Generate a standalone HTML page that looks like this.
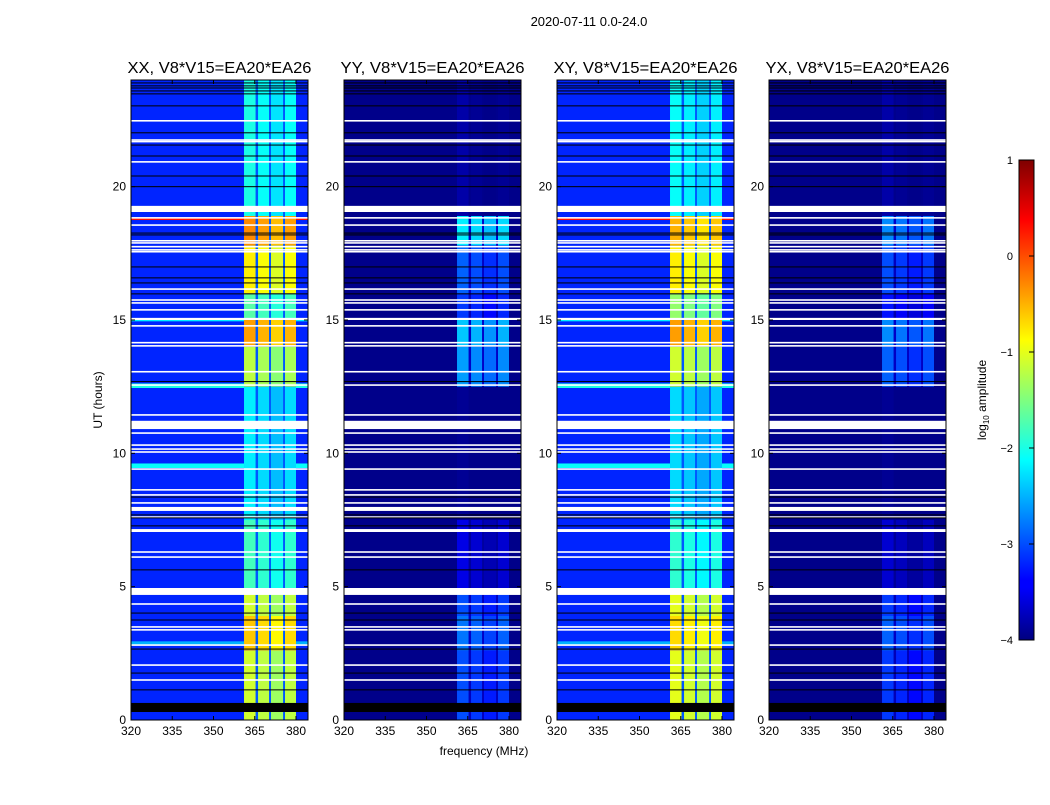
<!DOCTYPE html>
<html><head><meta charset="utf-8">
<style>
body{margin:0;background:#fff;}
svg text{font-family:"Liberation Sans",sans-serif;}
</style></head>
<body>
<svg id="fig" width="1050" height="800" viewBox="0 0 1050 800" xmlns="http://www.w3.org/2000/svg">
<defs>
<linearGradient id="jetgrad" x1="0" y1="1" x2="0" y2="0">
<stop offset="0" stop-color="#00007f"/><stop offset="0.11" stop-color="#0000ff"/>
<stop offset="0.125" stop-color="#0000ff"/><stop offset="0.375" stop-color="#00ffff"/>
<stop offset="0.5" stop-color="#7fff7f"/><stop offset="0.625" stop-color="#ffff00"/>
<stop offset="0.875" stop-color="#ff0000"/><stop offset="1" stop-color="#7f0000"/>
</linearGradient>
</defs>
<text x="589" y="26" font-size="13" text-anchor="middle">2020-07-11 0.0-24.0</text>
<text x="484" y="755" font-size="12" text-anchor="middle">frequency (MHz)</text>
<text x="102" y="400" font-size="12" text-anchor="middle" transform="rotate(-90 102 400)">UT (hours)</text>
<g id="panels"></g>
<g id="cbar">
<rect x="1019" y="160" width="15" height="480" fill="url(#jetgrad)" stroke="#000" stroke-width="1"/>
<text x="986" y="400" font-size="12" text-anchor="middle" transform="rotate(-90 986 400)">log<tspan font-size="8" dy="3">10</tspan><tspan dy="-3"> amplitude</tspan></text>
</g>
</svg>
<script>
// ---- data ----
const pols = ["XX","YY","XY","YX"];
const panelTitles = ["XX, V8*V15=EA20*EA26","YY, V8*V15=EA20*EA26","XY, V8*V15=EA20*EA26","YX, V8*V15=EA20*EA26"];
const xTicks = [320,335,350,365,380];
const yTicks = [0,5,10,15,20];
const cbarTicks = [1,0,-1,-2,-3,-4];
const subBands = [[361.1,365.3],[366.2,370.2],[370.9,375.3],[376.0,380.0]];
const segStart = [0,2.6,3.9,4.9,7.5,12.5,14.0,15.0,16.0,17.8,18.9];
const segEnd   = [2.6,3.9,4.9,7.5,12.5,14.0,15.0,16.0,17.8,18.9,24];
const bandXX = [-1.2,-0.7,-1.2,-1.9,-2.3,-1.3,-0.5,-1.8,-0.9,-0.4,-2.1];
const bandYY = [-3.1,-2.9,-3.1,-3.6,-4.0,-2.7,-2.5,-3.2,-3.0,-2.3,-3.9];
const bandXY = [-1.1,-0.8,-1.1,-2.0,-2.4,-1.2,-0.5,-1.5,-0.9,-0.6,-2.2];
const bandYX = [-3.2,-3.0,-3.2,-3.7,-4.0,-3.0,-2.8,-3.4,-3.1,-2.8,-3.9];
const bgLevel = [-3.2,-3.95,-3.2,-3.95];
const specStart = [12.45,9.45,14.95,18.75,2.8];
const specEnd   = [12.62,9.62,15.0,18.82,2.95];
const specLevel = [-2.0,-2.1,-2.2,0.3,-2.5];
const thinWhite = [22.47,21.75,21.69,20.93,18.83,18.56,17.97,17.89,17.75,17.63,17.56,16.16,15.75,15.64,15.38,14.78,14.15,14.03,13.06,12.56,11.44,10.76,10.31,10.16,10.05,9.41,8.63,8.44,8.14,7.61,6.3,6.11,4.35,3.49,3.38,2.81,2.06,1.5];
const thickWhiteStart = [19.05,15.0,10.91,7.84,7.05,4.69];
const thickWhiteEnd   = [19.28,15.08,11.22,7.99,7.16,4.95];
const thinBlack = [23.89,23.78,23.7,23.59,23.48,23.03,22.02,21.56,21.15,20.4,20.0,18.26,18.19,16.99,16.58,16.39,15.98,12.69,8.36,7.69,7.58,7.28,5.63,4.01,3.75,2.66,1.76,1.13];
const thickBlackStart = [0.3];
const thickBlackEnd = [0.64];

// ---- helpers ----
const NS="http://www.w3.org/2000/svg";
const panelLeft=[131,344,557,769], W=177, TOP=80, H=640;
function clamp(v){return Math.max(0,Math.min(1,v));}
function jet(v){const t=clamp((v+4)/5);
 const r=clamp(1.5-Math.abs(4*t-3)),g=clamp(1.5-Math.abs(4*t-2)),b=clamp(1.5-Math.abs(4*t-1));
 return `rgb(${Math.round(r*255)},${Math.round(g*255)},${Math.round(b*255)})`;}
function fx(p,f){return panelLeft[p]+(f-320)*2.75;}
function fy(h){return TOP+H-(h/24)*H;}
function mk(tag,attrs,parent){const e=document.createElementNS(NS,tag);for(const k in attrs)e.setAttribute(k,attrs[k]);parent.appendChild(e);return e;}
const bands=[bandXX,bandYY,bandXY,bandYX];
const root=document.getElementById('panels');

for(let p=0;p<4;p++){
 const g=mk('g',{},root);
 
 
 const L=panelLeft[p];
 const bg=mk('rect',{x:L,y:TOP,width:W,height:H,fill:jet(bgLevel[p])},g);
 
 
 const isCross=(p===0||p===2);
 for(let i=0;i<specStart.length;i++){ if(!isCross) continue;
  const y1=fy(specEnd[i]),y2=fy(specStart[i]);
  const r=mk('rect',{x:L,y:y1,width:W,height:Math.max(1,y2-y1),fill:jet(specLevel[i])},g);
  
  
 }
 for(let s=0;s<segStart.length;s++){
  const y1=fy(segEnd[s]),y2=fy(segStart[s]);
  const lv=bands[p][s];
  if(lv>bgLevel[p]){
   const gap=mk('rect',{x:fx(p,subBands[0][0]),y:y1,width:fx(p,subBands[3][1])-fx(p,subBands[0][0]),height:y2-y1,fill:jet(bgLevel[p]+(isCross?0.25:Math.min(0.3,(lv-bgLevel[p])*0.3)))},g);
   
   
  }
  for(let b=0;b<subBands.length;b++){
   const v=Math.max(bgLevel[p],lv+(b===0?0.1:(b===2?-0.15:0)));
   const c=mk('rect',{x:fx(p,subBands[b][0]),y:y1,width:fx(p,subBands[b][1])-fx(p,subBands[b][0]),height:y2-y1,fill:jet(v)},g);
   
   
  }
 }
 for(const h of thinWhite){const l=mk('rect',{x:L,y:fy(h)-0.8,width:W,height:1.6,fill:'#fff'},g);
  
  }
 for(let i=0;i<thickWhiteStart.length;i++){const l=mk('rect',{x:L,y:fy(thickWhiteEnd[i]),width:W,height:fy(thickWhiteStart[i])-fy(thickWhiteEnd[i]),fill:'#fff'},g);
  
  }
 for(const h of thinBlack){const l=mk('rect',{x:L,y:fy(h)-0.5,width:W,height:1,fill:'#000'},g);
  
  }
 for(let i=0;i<thickBlackStart.length;i++){const l=mk('rect',{x:L,y:fy(thickBlackEnd[i]),width:W,height:fy(thickBlackStart[i])-fy(thickBlackEnd[i]),fill:'#000'},g);
  
  }
 const fr=mk('rect',{x:L,y:TOP,width:W,height:H,fill:'none',stroke:'#000','stroke-width':1},g);
 
 
 const t=mk('text',{x:L+W/2,y:TOP-7,'font-size':16,'text-anchor':'middle',textLength:184,lengthAdjust:'spacingAndGlyphs'},g);
 t.textContent=panelTitles[p];
 
 
 for(const xt of xTicks){const x=fx(p,xt);
  mk('line',{x1:x,x2:x,y1:TOP+H,y2:TOP+H-4,stroke:'#000'},g);
  mk('line',{x1:x,x2:x,y1:TOP,y2:TOP+4,stroke:'#000'},g);
  const tl=mk('text',{x:x,y:TOP+H+15,'font-size':12,'text-anchor':'middle'},g);
  tl.textContent=xt;
  
  }
 for(const yt of yTicks){const y=fy(yt);
  mk('line',{x1:L,x2:L+4,y1:y,y2:y,stroke:'#000'},g);
  mk('line',{x1:L+W,x2:L+W-4,y1:y,y2:y,stroke:'#000'},g);
  const tl=mk('text',{x:L-5,y:y+4,'font-size':12,'text-anchor':'end'},g);
  tl.textContent=yt;
  
  }
}
const cb=document.getElementById('cbar');
for(const v of cbarTicks){const y=640-(v+4)/5*480;
 mk('line',{x1:1029,x2:1034,y1:y,y2:y,stroke:'#000'},cb);
 const tl=mk('text',{x:1013,y:y+4,'font-size':11,'text-anchor':'end'},cb);
 tl.textContent=(v<0?'\u2212'+(-v):''+v);
 
 }
</script>
</body></html>
